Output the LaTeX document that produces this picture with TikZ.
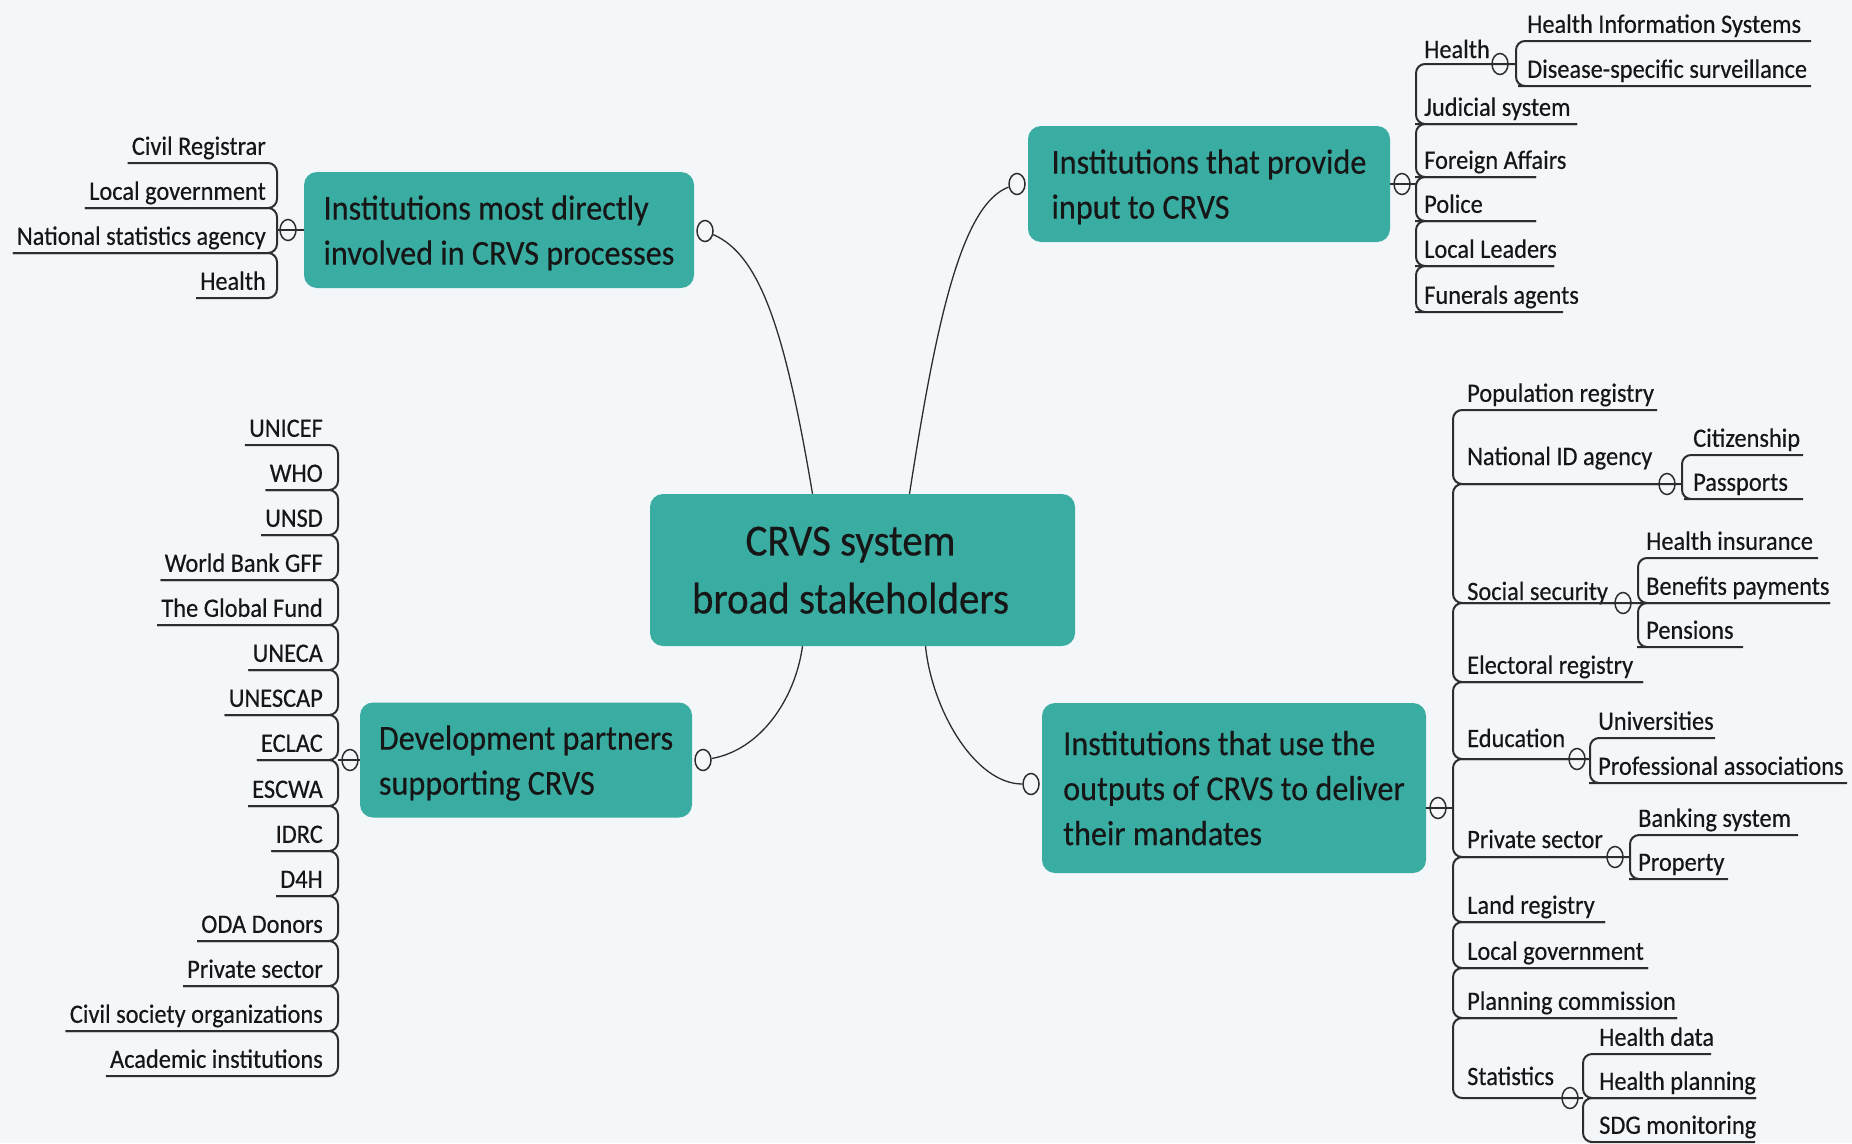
\documentclass[tikz,border=0pt]{standalone}
\usepackage{fontspec}
\setmainfont[FakeStretch=0.92, FakeBold=0.4]{Carlito}
\usetikzlibrary{shapes.geometric}

\definecolor{paper}{RGB}{244,247,250}
\definecolor{crvsteal}{RGB}{58,173,163}
\definecolor{ink}{RGB}{22,22,22}
\definecolor{wireink}{RGB}{45,45,45}

\begin{document}
\begin{tikzpicture}[x=1pt, y=-1pt,
    topic/.style={fill=crvsteal, rounded corners=13pt, text=ink, align=left,
                  text depth=0pt, font=\fontsize{35}{45}\selectfont},
    root/.style={topic, minimum width=425pt, minimum height=152pt},
    rootlabel/.style={align=center, text=ink, text depth=0pt, xshift=-12pt,
                      font=\fontsize{44.5}{58}\selectfont},
    kidr/.style={anchor=south west, inner sep=0pt, text depth=8pt, text=ink,
                 font=\fontsize{26.5}{30}\selectfont},
    kidl/.style={kidr, anchor=south east, inner xsep=4pt},
    knob/.style={ellipse, draw=wireink, line width=1.5pt, minimum width=16pt,
                 minimum height=21pt, inner sep=0pt},
    tie/.style={draw=wireink, line width=2pt, rounded corners=9pt},
    wire/.style={draw=wireink, line width=1.3pt}]
    \fill[paper] (0,0) rectangle (1852,1143);
    \useasboundingbox (0,0) rectangle (1852,1143);

    % main topics
    \node[root, label={[rootlabel]center:{CRVS system\\broad stakeholders}}] (hub) at (862.5,570) {};
    \node[topic, minimum width=390pt, minimum height=116pt] (inv) at (499,230) {Institutions most directly\\involved in CRVS processes};
    \node[topic, minimum width=362pt, minimum height=116pt] (inp) at (1209,184) {Institutions that provide\\input to CRVS};
    \node[topic, minimum width=332pt, minimum height=115pt] (dev) at (526,760) {Development partners\\supporting CRVS};
    \node[topic, minimum width=384pt, minimum height=170pt] (use) at (1234,788) {Institutions that use the\\outputs of CRVS to deliver\\their mandates};

    % knobs
    \node[knob] (invo) at (705,231) {};
    \node[knob] (invk) at (288,230) {};
    \node[knob] (inpo) at (1017,184) {};
    \node[knob] (inpk) at (1402,184) {};
    \node[knob] (devo) at (703,760) {};
    \node[knob] (devk) at (350,760) {};
    \node[knob] (useo) at (1031,784) {};
    \node[knob] (usek) at (1438,808) {};
    \node[knob] (bhk) at (1500,64) {};
    \node[knob] (ek2) at (1667,484) {};
    \node[knob] (ek3) at (1623,603) {};
    \node[knob] (ek5) at (1577,759) {};
    \node[knob] (ek6) at (1615,857) {};
    \node[knob] (ek10) at (1570,1098) {};

    % spines
    \coordinate (as) at (277,0);
    \coordinate (ds) at (338,0);
    \coordinate (bs) at (1416,0);
    \coordinate (bhs) at (1516,0);
    \coordinate (es) at (1453,0);
    \coordinate (e2s) at (1682,0);
    \coordinate (e3s) at (1638,0);
    \coordinate (e5s) at (1590,0);
    \coordinate (e6s) at (1630,0);
    \coordinate (e10s) at (1583,0);

    % most directly involved
    \node[kidl] (a1) at (270,163) {Civil Registrar};
    \node[kidl] (a2) at (270,208) {Local government};
    \node[kidl] (a3) at (270,253) {National statistics agency};
    \node[kidl] (a4) at (270,298) {Health};

    % development partners
    \node[kidl] (d1) at (327,445) {UNICEF};
    \node[kidl] (d2) at (327,490) {WHO};
    \node[kidl] (d3) at (327,535) {UNSD};
    \node[kidl] (d4) at (327,580) {World Bank GFF};
    \node[kidl] (d5) at (327,625) {The Global Fund};
    \node[kidl] (d6) at (327,670) {UNECA};
    \node[kidl] (d7) at (327,715) {UNESCAP};
    \node[kidl] (d8) at (327,760) {ECLAC};
    \node[kidl] (d9) at (327,806) {ESCWA};
    \node[kidl] (d10) at (327,851) {IDRC};
    \node[kidl] (d11) at (327,896) {D4H};
    \node[kidl] (d12) at (327,941) {ODA Donors};
    \node[kidl] (d13) at (327,986) {Private sector};
    \node[kidl] (d14) at (327,1031) {Civil society organizations};
    \node[kidl] (d15) at (327,1076) {Academic institutions};

    % input to CRVS
    \node[kidr, anchor=base west] (bh) at (1424,58) {Health};
    \node[kidr] (bh1) at (1527,41) {Health Information Systems};
    \node[kidr] (bh2) at (1527,86) {Disease-specific surveillance};
    \node[kidr] (b2) at (1424,124) {Judicial system};
    \node[kidr] (b3) at (1424,177) {Foreign Affairs};
    \node[kidr] (b4) at (1424,221) {Police};
    \node[kidr] (b5) at (1424,266) {Local Leaders};
    \node[kidr] (b6) at (1424,312) {Funerals agents};

    % users of CRVS outputs
    \node[kidr] (e1) at (1467,410) {Population registry};
    \node[kidr, anchor=base west] (e2) at (1467,465) {National ID agency};
    \node[kidr] (e2a) at (1693,455) {Citizenship};
    \node[kidr] (e2b) at (1693,499) {Passports};
    \node[kidr, anchor=base west] (e3) at (1467,600) {Social security};
    \node[kidr] (e3a) at (1646,558) {Health insurance};
    \node[kidr] (e3b) at (1646,603) {Benefits payments};
    \node[kidr] (e3c) at (1646,647) {Pensions};
    \node[kidr] (e4) at (1467,682) {Electoral registry};
    \node[kidr, anchor=base west] (e5) at (1467,747) {Education};
    \node[kidr] (e5a) at (1598,738) {Universities};
    \node[kidr] (e5b) at (1598,783) {Professional associations};
    \node[kidr, anchor=base west] (e6) at (1467,848) {Private sector};
    \node[kidr] (e6a) at (1638,835) {Banking system};
    \node[kidr] (e6b) at (1638,879) {Property};
    \node[kidr] (e7) at (1467,922) {Land registry};
    \node[kidr] (e8) at (1467,968) {Local government};
    \node[kidr] (e9) at (1467,1018) {Planning commission};
    \node[kidr, anchor=base west] (e10) at (1467,1085) {Statistics};
    \node[kidr] (e10a) at (1599,1054) {Health data};
    \node[kidr] (e10b) at (1599,1098) {Health planning};
    \node[kidr] (e10c) at (1599,1142) {SDG monitoring};

    % hub to topics
    \draw[wire] ([xshift=-50pt]hub.north) .. controls (785,330) and (760,255) .. (invo);
    \draw[wire] ([xshift=47pt]hub.north) .. controls (935,330) and (960,205) .. (inpo);
    \draw[wire] ([xshift=-60pt]hub.south) .. controls (795,700) and (760,750) .. (devo);
    \draw[wire] ([xshift=63pt]hub.south) .. controls (932,710) and (975,784) .. (useo);

    % left brackets
    \draw[tie] (invk -| inv.west) -- (invk -| as);
    \draw[tie] (a1.south west) -- (a1.south east -| as) -- (a2.south east -| as) -- (a2.south west);
    \draw[tie] (a2.south west) -- (a2.south east -| as) -- (a3.south east -| as) -- (a3.south west);
    \draw[tie] (a3.south west) -- (a3.south east -| as) -- (a4.south east -| as) -- (a4.south west);

    \draw[tie] (devk -| dev.west) -- (devk -| ds);
    \draw[tie] (d1.south west) -- (d1.south east -| ds) -- (d2.south east -| ds) -- (d2.south west);
    \draw[tie] (d2.south west) -- (d2.south east -| ds) -- (d3.south east -| ds) -- (d3.south west);
    \draw[tie] (d3.south west) -- (d3.south east -| ds) -- (d4.south east -| ds) -- (d4.south west);
    \draw[tie] (d4.south west) -- (d4.south east -| ds) -- (d5.south east -| ds) -- (d5.south west);
    \draw[tie] (d5.south west) -- (d5.south east -| ds) -- (d6.south east -| ds) -- (d6.south west);
    \draw[tie] (d6.south west) -- (d6.south east -| ds) -- (d7.south east -| ds) -- (d7.south west);
    \draw[tie] (d7.south west) -- (d7.south east -| ds) -- (d8.south east -| ds) -- (d8.south west);
    \draw[tie] (d8.south west) -- (d8.south east -| ds) -- (d9.south east -| ds) -- (d9.south west);
    \draw[tie] (d9.south west) -- (d9.south east -| ds) -- (d10.south east -| ds) -- (d10.south west);
    \draw[tie] (d10.south west) -- (d10.south east -| ds) -- (d11.south east -| ds) -- (d11.south west);
    \draw[tie] (d11.south west) -- (d11.south east -| ds) -- (d12.south east -| ds) -- (d12.south west);
    \draw[tie] (d12.south west) -- (d12.south east -| ds) -- (d13.south east -| ds) -- (d13.south west);
    \draw[tie] (d13.south west) -- (d13.south east -| ds) -- (d14.south east -| ds) -- (d14.south west);
    \draw[tie] (d14.south west) -- (d14.south east -| ds) -- (d15.south east -| ds) -- (d15.south west);

    % right brackets
    \draw[tie] (inpk -| inp.east) -- (inpk -| bs);
    \draw[tie] (bhk -| bhs) -- (bhk -| bs) -- (b2.south west -| bs) -- (b2.south west) -- ++(153,0);
    \draw[tie] (b2.south west) ++(153,0) -- (b2.south west -| bs) -- (b3.south west -| bs) -- (b3.south west) -- ++(112,0);
    \draw[tie] (b3.south west) ++(112,0) -- (b3.south west -| bs) -- (b4.south west -| bs) -- (b4.south west) -- ++(112,0);
    \draw[tie] (b4.south west) ++(112,0) -- (b4.south west -| bs) -- (b5.south west -| bs) -- (b5.south west) -- ++(130,0);
    \draw[tie] (b5.south west) ++(130,0) -- (b5.south west -| bs) -- (b6.south west -| bs) -- (b6.south west) -- ++(139,0);
    \draw[tie] (bh1.south west) ++(284,0) -- (bh1.south west -| bhs) -- (bh2.south west -| bhs) -- (bh2.south west) -- ++(284,0);

    \draw[tie] (usek -| use.east) -- (usek -| es);
    \draw[tie] (e1.south west) ++(190,0) -- (e1.south west -| es) -- (ek2 -| es) -- (ek2 -| e2s);
    \draw[tie] (ek2.west) -- (ek2 -| es) -- (ek3 -| es) -- (ek3 -| e3s);
    \draw[tie] (ek3.west) -- (ek3 -| es) -- (e4.south west -| es) -- (e4.south west) -- ++(176,0);
    \draw[tie] (e4.south west) ++(176,0) -- (e4.south west -| es) -- (ek5 -| es) -- (ek5 -| e5s);
    \draw[tie] (ek5.west) -- (ek5 -| es) -- (ek6 -| es) -- (ek6 -| e6s);
    \draw[tie] (ek6.west) -- (ek6 -| es) -- (e7.south west -| es) -- (e7.south west) -- ++(138,0);
    \draw[tie] (e7.south west) ++(138,0) -- (e7.south west -| es) -- (e8.south west -| es) -- (e8.south west) -- ++(181,0);
    \draw[tie] (e8.south west) ++(181,0) -- (e8.south west -| es) -- (e9.south west -| es) -- (e9.south west) -- ++(210,0);
    \draw[tie] (e9.south west) ++(210,0) -- (e9.south west -| es) -- (ek10 -| es) -- (ek10 -| e10s);

    \draw[tie] (e2a.south west) ++(110,0) -- (e2a.south west -| e2s) -- (e2b.south west -| e2s) -- (e2b.south west) -- ++(110,0);
    \draw[tie] (e3a.south west) ++(172,0) -- (e3a.south west -| e3s) -- (e3b.south west -| e3s) -- (e3b.south west) -- ++(184,0);
    \draw[tie] (e3b.south west) ++(184,0) -- (e3b.south west -| e3s) -- (e3c.south west -| e3s) -- (e3c.south west) -- ++(97,0);
    \draw[tie] (e5a.south west) ++(117,0) -- (e5a.south west -| e5s) -- (e5b.south west -| e5s) -- (e5b.south west) -- ++(249,0);
    \draw[tie] (e6a.south west) ++(160,0) -- (e6a.south west -| e6s) -- (e6b.south west -| e6s) -- (e6b.south west) -- ++(90,0);
    \draw[tie] (e10a.south west) ++(112,0) -- (e10a.south west -| e10s) -- (e10b.south west -| e10s) -- (e10b.south west) -- ++(157,0);
    \draw[tie] (e10b.south west) ++(157,0) -- (e10b.south west -| e10s) -- (e10c.south west -| e10s) -- (e10c.south west) -- ++(156,0);
\end{tikzpicture}
\end{document}
